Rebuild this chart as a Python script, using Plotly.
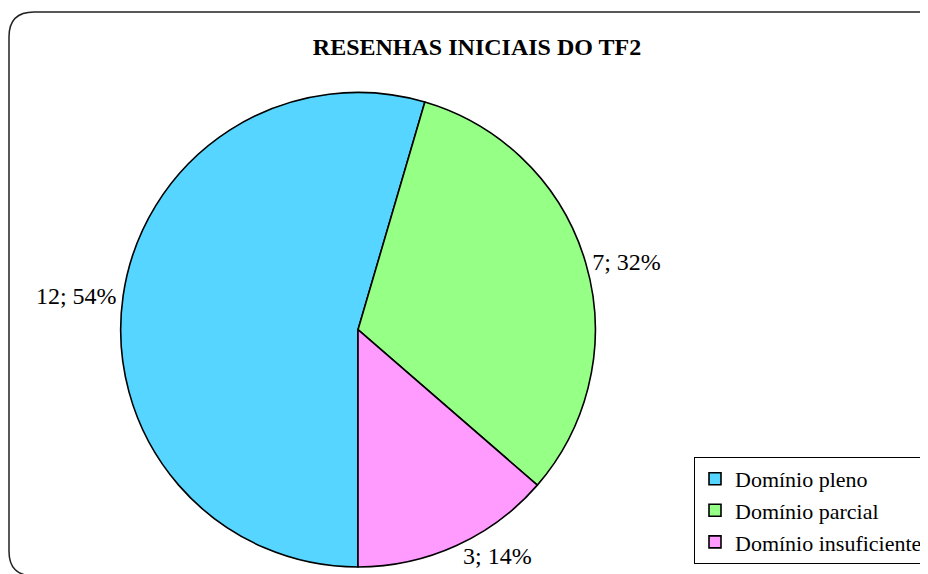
import plotly.graph_objects as go

# Data
categories = ["Domínio pleno", "Domínio parcial", "Domínio insuficiente"]
counts = [12, 7, 3]
percent_labels = ["54%", "32%", "14%"]
colors = ["#55D5FF", "#96FF86", "#FF9AFF"]

# page has an 8px body margin, so the figure is 8px smaller than the window
OFF = 8
W, H = 928 - OFF, 574 - OFF
FONT = "Liberation Serif"


def px(x, y):
    """reference-window pixel -> paper coordinates"""
    return (x - OFF) / W, 1 - (y - OFF) / H


# pie geometry in reference pixels (centre and radius)
cx, cy, r = 358, 332, 239
x0, y0 = px(cx - r, cy + r)
x1, y1 = px(cx + r, cy - r)

fig = go.Figure(
    go.Pie(
        labels=categories,
        values=counts,
        customdata=percent_labels,
        texttemplate="%{value}; %{customdata}",
        textposition="outside",
        textfont=dict(family=FONT, size=24, color="black"),
        marker=dict(colors=colors, line=dict(color="black", width=1.6)),
        sort=False,
        direction="clockwise",
        rotation=180,
        domain=dict(x=[x0, x1], y=[y0, y1]),
        hoverinfo="label+value+percent",
    )
)


def P(x, y):
    a, b = px(x, y)
    return f"{a:.5f},{b:.5f}"


# rounded outer frame
L, T, R, B, rr = 9, 12, 943, 580, 25
path = (
    f"M {P(L + rr, T)} L {P(R - rr, T)} Q {P(R, T)} {P(R, T + rr)} "
    f"L {P(R, B - rr)} Q {P(R, B)} {P(R - rr, B)} L {P(L + rr, B)} "
    f"Q {P(L, B)} {P(L, B - rr)} L {P(L, T + rr)} Q {P(L, T)} {P(L + rr, T)} Z"
)

tx, ty = px(477, 47)
lx, ly = px(694, 514)

fig.update_layout(
    width=W,
    height=H,
    margin=dict(l=0, r=0, t=0, b=0),
    paper_bgcolor="white",
    plot_bgcolor="white",
    title=dict(
        text="<b>RESENHAS INICIAIS DO TF2</b>",
        font=dict(family=FONT, size=24, color="black"),
        x=tx,
        xanchor="center",
        y=ty,
        yanchor="middle",
    ),
    legend=dict(
        x=lx,
        xanchor="left",
        y=ly,
        yanchor="middle",
        font=dict(family=FONT, size=22, color="black"),
        bordercolor="black",
        borderwidth=1,
        bgcolor="white",
        itemclick=False,
    ),
    shapes=[
        dict(
            type="path",
            path=path,
            xref="paper",
            yref="paper",
            line=dict(color="#222222", width=1.5),
            layer="below",
        )
    ],
    showlegend=True,
)

fig.write_html("out.html")
